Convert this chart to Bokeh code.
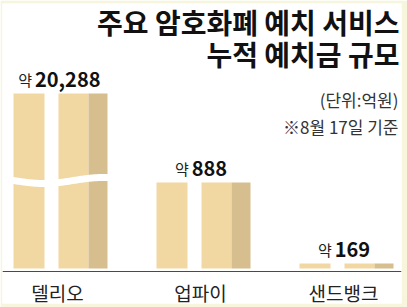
import numpy as np
from bokeh.plotting import figure
from bokeh.models import Range1d, Span
from bokeh.core.properties import value
from bokeh.embed import file_html
from bokeh.resources import INLINE

# ---- data ----
categories = ["델리오", "업파이", "샌드뱅크"]
deposits = [20288, 888, 169]          # 억원
title_lines = ["주요 암호화폐 예치 서비스", "누적 예치금 규모"]
unit_note = "(단위:억원)"
date_note = "※8월 17일 기준"
approx_prefix = "약"

# ---- layout constants ----
W, H = 407, 307
BL, BR, BT, BB = 2, 6, 3, 4
FW = W - BL - BR
FH = H - BT - BB
PX_PER_CAT = 143.0
X_START = -(60 - BL) / PX_PER_CAT
X_END = X_START + FW / PX_PER_CAT

UNITS_PER_PX = 8.88
BAR_BASE = 125.0
BASE_PX = 268
Y_END = BAR_BASE + (BASE_PX - BT) * UNITS_PER_PX
Y_START = BAR_BASE - (H - BB - BASE_PX) * UNITS_PER_PX
BREAK_CAP = 1680.0

FONT = value("Noto Sans CJK KR")
LIGHT = "#f1d7a1"
DARK = "#d6be8f"
CREAM = "#f8f5dd"


def dx(px):
    return px / PX_PER_CAT


def ax(px):
    return X_START + (px - BL) / PX_PER_CAT


def ay(py):
    return Y_END - (py - BT) * UNITS_PER_PX


p = figure(width=W, height=H, output_backend="svg", toolbar_location=None,
           x_range=Range1d(X_START, X_END), y_range=Range1d(Y_START, Y_END),
           x_axis_location=None, y_axis_location=None,
           min_border_left=BL, min_border_right=BR,
           min_border_top=BT, min_border_bottom=BB)
p.grid.visible = False
p.outline_line_color = None
p.background_fill_color = "white"
p.border_fill_color = CREAM

idx = np.arange(len(categories), dtype=float)
vals = np.array(deposits, dtype=float)
disp = np.minimum(vals, BREAK_CAP)

# bars (front face split into three pieces)
p.quad(left=idx + dx(-47), right=idx + dx(-16), top=disp, bottom=BAR_BASE,
       fill_color=LIGHT, line_color=None)
p.quad(left=idx + dx(-2), right=idx + dx(28), top=disp, bottom=BAR_BASE,
       fill_color=LIGHT, line_color=None)
p.quad(left=idx + dx(28), right=idx + dx(47), top=disp, bottom=BAR_BASE,
       fill_color=DARK, line_color=None)

# wavy break for bars over the cap
for i, v in enumerate(vals):
    if v > BREAK_CAP:
        xp = np.linspace(-52, 52, 80)
        centre_px = 180 + 3.0 * np.sin(np.pi * (xp + 47) / 60.0)
        top_y = ay(centre_px - 3.5)
        bot_y = ay(centre_px + 3.5)
        xs = list(i + dx(xp)) + list(i + dx(xp[::-1]))
        ys = list(top_y) + list(bot_y[::-1])
        p.patch(xs, ys, fill_color="white", line_color=None)

# baseline
p.add_layout(Span(location=BAR_BASE - 3 * UNITS_PER_PX, dimension="width",
                  line_color="#4a4a4a", line_width=1))

# category labels
p.text(x=idx + dx(-3), y=[ay(292)] * len(categories), text=categories,
       text_align="center", text_baseline="middle", text_font=FONT,
       text_font_size="19px", text_color="#222222")

# value labels
nums = ["{:,}".format(v) for v in deposits]
num_w = np.array([11.2 * sum(c.isdigit() for c in s) + 5 * s.count(",") for s in nums])
pre_w, gap = 13.0, 3.0
group_w = pre_w + gap + num_w
left_px = -3 - group_w / 2
label_y = disp + 14 * UNITS_PER_PX
p.text(x=idx + dx(left_px + pre_w), y=label_y, text=[approx_prefix] * len(nums),
       text_align="right", text_baseline="alphabetic", text_font=FONT,
       text_font_size="15px", text_color="#222222")
p.text(x=idx + dx(left_px + pre_w + gap), y=label_y, text=nums,
       text_align="left", text_baseline="alphabetic", text_font=FONT,
       text_font_size="20px", text_font_style="bold", text_color="#111111")

# title and notes
p.text(x=[ax(399)] * 2, y=[ay(21), ay(53)], text=title_lines,
       text_align="right", text_baseline="middle", text_font=FONT,
       text_font_size="28px", text_font_style="bold", text_color="#111111")
p.text(x=[ax(398)] * 2, y=[ay(99), ay(126)], text=[unit_note, date_note],
       text_align="right", text_baseline="middle", text_font=FONT,
       text_font_size="17px", text_color="#333333")

open("out.html", "w").write(file_html(p, INLINE))
